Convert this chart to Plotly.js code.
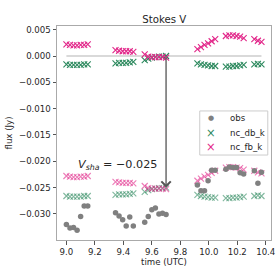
<!DOCTYPE html>
<html>
<head>
<meta charset="utf-8">
<script src="https://cdn.plot.ly/plotly-3.0.1.min.js"></script>
<style>html,body{margin:0;padding:0;background:#fff;}#chart{width:277px;height:277px;}</style>
</head>
<body>
<div id="chart"></div>
<script>
var time = [9.000,9.025,9.050,9.075,9.100,9.125,9.150,
            9.345,9.370,9.395,9.420,9.445,9.470,
            9.550,9.575,9.600,9.625,9.650,9.675,9.700,
            9.920,9.945,9.970,9.995,10.020,10.045,
            10.120,10.145,10.170,10.195,10.220,10.245,
            10.320,10.345,10.370];
var obs = [-0.0320,-0.0327,-0.0326,-0.0331,-0.0305,-0.0285,-0.0285,
           -0.0298,-0.0304,-0.0311,-0.0323,-0.0306,-0.0323,
           -0.0316,-0.0305,-0.0292,-0.0289,-0.0300,-0.0299,-0.0301,
           -0.0245,-0.0256,-0.0256,-0.0237,-0.0217,-0.0217,
           -0.0215,-0.0211,-0.0212,-0.0212,-0.0222,-0.0224,
           -0.0218,-0.0242,-0.0221];
var nc_db_k = [-0.0016,-0.0017,-0.0017,-0.0017,-0.0017,-0.0016,-0.0016,
               -0.0014,-0.0013,-0.0013,-0.0013,-0.0012,-0.0011,
               -0.0008,-0.0005,-0.0003,-0.0002,-0.0001,-0.0001,0.0000,
               -0.0014,-0.0016,-0.0017,-0.0018,-0.0019,-0.0019,
               -0.0020,-0.0020,-0.0019,-0.0019,-0.0018,-0.0017,
               -0.0016,-0.0015,-0.0016];
var nc_fb_k = [0.0022,0.0021,0.0020,0.0020,0.0021,0.0021,0.0022,
               0.0011,0.0010,0.0009,0.0009,0.0009,0.0008,
               0.0003,-0.0001,-0.0002,-0.0002,-0.0002,-0.0002,-0.0003,
               0.0013,0.0017,0.0021,0.0024,0.0028,0.0032,
               0.0038,0.0039,0.0039,0.0038,0.0037,0.0034,
               0.0032,0.0029,0.0027];
var v_sha = -0.025;
var arrow_time = 9.7;
var zero_line_x = [9.0, 10.37];
var zero_line_y = [0, 0];
var x_ticks = [9.0, 9.2, 9.4, 9.6, 9.8, 10.0, 10.2, 10.4];
var x_tick_labels = ["9.0","9.2","9.4","9.6","9.8","10.0","10.2","10.4"];
var y_ticks = [0.005, 0.0, -0.005, -0.010, -0.015, -0.020, -0.025, -0.030];
var y_tick_labels = ["0.005","0.000","\u22120.005","\u22120.010","\u22120.015","\u22120.020","\u22120.025","\u22120.030"];
var legend_labels = ["obs", "nc_db_k", "nc_fb_k"];

var GREEN = '#2e8a5f', PINK = '#e2288a', GRAY = '#808080';
var shift = function(a){ return a.map(function(v){ return v + v_sha; }); };
var xm = function(c, op){ return {symbol:'x-thin', size:6, color:c, opacity:op, line:{color:c, width:1.1}}; };

var traces = [
  {x: zero_line_x, y: zero_line_y, mode:'lines', line:{color:'#d9d9d9', width:2}, showlegend:false, hoverinfo:'skip'},
  {x: time, y: shift(nc_db_k), mode:'markers', marker: xm(GREEN, 0.6), showlegend:false},
  {x: time, y: shift(nc_fb_k), mode:'markers', marker: xm(PINK, 0.6), showlegend:false},
  {x: time, y: obs, mode:'markers', name:legend_labels[0], marker:{symbol:'circle', size:5.5, color:GRAY}, showlegend:false},
  {x: time, y: nc_db_k, mode:'markers', name:legend_labels[1], marker: xm(GREEN, 1), showlegend:false},
  {x: time, y: nc_fb_k, mode:'markers', name:legend_labels[2], marker: xm(PINK, 1), showlegend:false}
];

var F = 'DejaVu Sans, sans-serif';
// compact matplotlib-style legend built from annotations
var legRows = [0.5687, 0.5014, 0.4332];
var legSym = ['\u25CF', '\u00D7', '\u00D7'];
var legCol = [GRAY, GREEN, PINK];
var legSize = [7, 11.5, 11.5];
var annotations = [
  {x:arrow_time, y:v_sha, ax:arrow_time, ay:0, xref:'x', yref:'y', axref:'x', ayref:'y', text:'', showarrow:true,
   arrowhead:4, arrowsize:1.4, arrowwidth:1.3, arrowcolor:'#555555', standoff:0, startstandoff:0},
  {x:9.07, y:-0.0208, xref:'x', yref:'y', xanchor:'left', yanchor:'middle', showarrow:false,
   text:'<i>V</i><sub><i>sha</i></sub> = \u22120.025', font:{family:F, size:11.2, color:'#262626'}}
];
for (var i = 0; i < legend_labels.length; i++) {
  annotations.push({x:0.7215, y:legRows[i], xref:'paper', yref:'paper', xanchor:'center', yanchor:'middle', showarrow:false,
    text:legSym[i], font:{family:F, size:legSize[i], color:legCol[i]}});
  annotations.push({x:0.797, y:legRows[i], xref:'paper', yref:'paper', xanchor:'left', yanchor:'middle', showarrow:false,
    text:legend_labels[i], font:{family:F, size:8.6, color:'#262626'}});
}

var layout = {
  width:277, height:277,
  margin:{l:57.3, r:5.7, t:26, b:37, pad:0},
  paper_bgcolor:'#fff', plot_bgcolor:'#fff',
  font:{family:F, size:8.6, color:'#262626'},
  showlegend:false,
  title:{text:'Stokes V', font:{family:F, size:10.2, color:'#262626'}, x:0.593, xanchor:'center', y:0.931, yanchor:'middle'},
  xaxis:{range:[8.934, 10.437], tickvals:x_ticks, ticktext:x_tick_labels, ticks:'outside', ticklen:3.5, tickwidth:1, tickcolor:'#555',
         showgrid:false, zeroline:false, showline:true, linecolor:'#aaaaaa', linewidth:1, mirror:true,
         title:{text:'time (UTC)', font:{family:F, size:8.6}, standoff:3}},
  yaxis:{range:[-0.03496, 0.0057], tickvals:y_ticks, ticktext:y_tick_labels, ticks:'outside', ticklen:3.5, tickwidth:1, tickcolor:'#555',
         showgrid:false, zeroline:false, showline:true, linecolor:'#aaaaaa', linewidth:1, mirror:true,
         title:{text:'flux (Jy)', font:{family:F, size:8.6}, standoff:4}},
  shapes:[
    {type:'rect', xref:'paper', yref:'paper', x0:0.667, x1:0.985, y0:0.397, y1:0.603,
     line:{color:'#cccccc', width:1}, fillcolor:'rgba(255,255,255,0.8)', layer:'above'}
  ],
  annotations: annotations
};
Plotly.newPlot('chart', traces, layout, {displayModeBar:false, staticPlot:true});
</script>
</body>
</html>
